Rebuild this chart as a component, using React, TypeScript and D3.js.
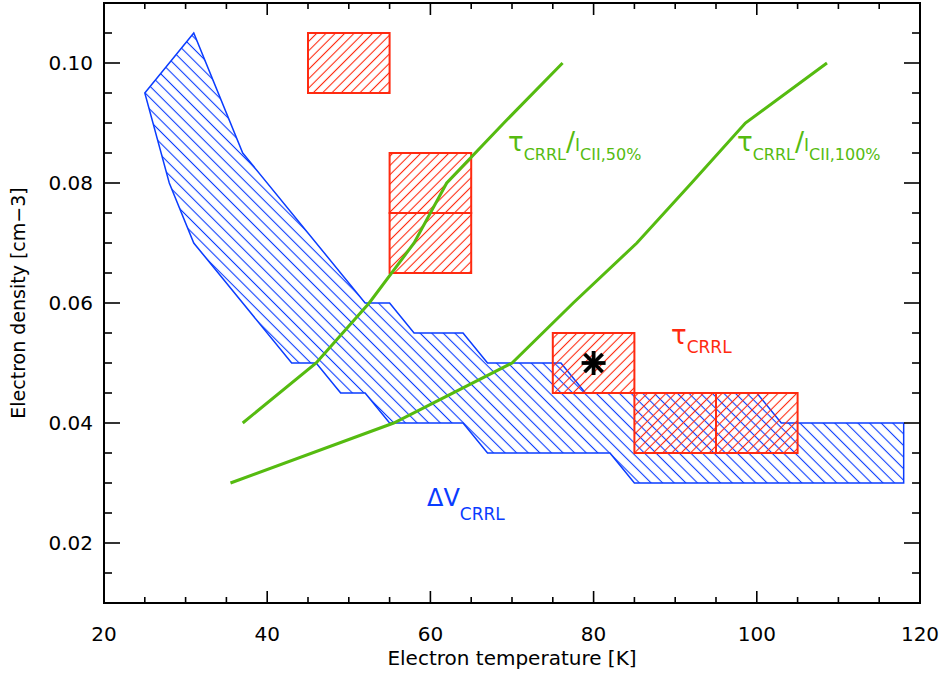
import React from "react";
import * as d3 from "d3";

// ---- data ----
const xTicks = [20, 40, 60, 80, 100, 120];
const xTickLabels = ["20", "40", "60", "80", "100", "120"];
const yTicks = [0.02, 0.04, 0.06, 0.08, 0.1];
const yTickLabels = ["0.02", "0.04", "0.06", "0.08", "0.10"];

// Delta V_CRRL constraint region (upper edge left->right, lower edge right->left)
const dvUpperT = [25, 31, 37, 52, 55, 58, 64, 67, 76, 79, 100, 103, 118];
const dvUpperN = [0.095, 0.105, 0.085, 0.06, 0.06, 0.055, 0.055, 0.05, 0.05, 0.045, 0.045, 0.04, 0.04];
const dvLowerT = [118, 85, 82, 67, 64, 55, 52, 49, 46, 43, 31, 28, 25];
const dvLowerN = [0.03, 0.03, 0.035, 0.035, 0.04, 0.04, 0.045, 0.045, 0.05, 0.05, 0.07, 0.08, 0.095];

// tau_CRRL cells
const tauT0 = [45, 55, 55, 75, 85, 95];
const tauT1 = [55, 65, 65, 85, 95, 105];
const tauN0 = [0.095, 0.075, 0.065, 0.045, 0.035, 0.035];
const tauN1 = [0.105, 0.085, 0.075, 0.055, 0.045, 0.045];

// tau/I_CII curves
const r50T = [37, 46, 52.5, 58, 62, 69, 76.2];
const r50N = [0.04, 0.05, 0.06, 0.07, 0.08, 0.09, 0.1];
const r100T = [35.5, 55.5, 70, 77.5, 85.3, 92, 98.6, 108.6];
const r100N = [0.03, 0.04, 0.05, 0.06, 0.07, 0.08, 0.09, 0.1];

// best solution
const starT = [80];
const starN = [0.05];

const W = 943;
const H = 673;
const BLUE = "#0a3cff";
const RED = "#ff2a10";
const GREEN = "#55bb10";
const FONT = "DejaVu Sans, sans-serif";

export default function App() {
  const x = d3.scaleLinear().domain([20, 120]).range([104, 920]);
  const y = d3.scaleLinear().domain([0.01, 0.11]).range([603, 3]);

  const polyPts: [number, number][] = [
    ...dvUpperT.map((t, i) => [t, dvUpperN[i]] as [number, number]),
    ...dvLowerT.map((t, i) => [t, dvLowerN[i]] as [number, number]),
  ];
  const line = d3
    .line<[number, number]>()
    .x((d) => x(d[0]))
    .y((d) => y(d[1]));
  const polyPath = line(polyPts) + "Z";
  const r50 = line(r50T.map((t, i) => [t, r50N[i]]));
  const r100 = line(r100T.map((t, i) => [t, r100N[i]]));

  const xMinor = d3.range(20, 120.01, 5).filter((v) => !xTicks.includes(v));
  const yMinor = d3
    .range(0.01, 0.1101, 0.005)
    .map((v) => Math.round(v * 1000) / 1000)
    .filter((v) => !yTicks.some((t) => Math.abs(t - v) < 1e-6));

  const [x0, x1] = x.range();
  const [yb, yt] = y.range();

  const bs = 8.2;
  const rs = 6.6;

  return (
    <svg
      width={W}
      height={H}
      style={{ position: "absolute", left: 0, top: 0, background: "#fff" }}
      fontFamily={FONT}
    >
      <defs>
        <pattern id="blueHatch" patternUnits="userSpaceOnUse" width={bs} height={bs} patternTransform="rotate(-45)">
          <line x1={bs / 2} y1={-1} x2={bs / 2} y2={bs + 1} stroke={BLUE} strokeWidth={1.1} />
        </pattern>
        <pattern id="redHatch" patternUnits="userSpaceOnUse" width={rs} height={rs} patternTransform="rotate(45)">
          <line x1={rs / 2} y1={-1} x2={rs / 2} y2={rs + 1} stroke={RED} strokeWidth={1.1} />
        </pattern>
      </defs>
      <rect x={0} y={0} width={W} height={H} fill="#fff" />

      {/* Delta V region */}
      <path d={polyPath} fill="url(#blueHatch)" stroke={BLUE} strokeWidth={1.5} strokeLinejoin="miter" />

      {/* tau cells */}
      {tauT0.map((t, i) => (
        <rect
          key={i}
          x={x(t)}
          y={y(tauN1[i])}
          width={x(tauT1[i]) - x(t)}
          height={y(tauN0[i]) - y(tauN1[i])}
          fill="url(#redHatch)"
          stroke={RED}
          strokeWidth={2}
        />
      ))}

      {/* curves */}
      <path d={r50 || ""} fill="none" stroke={GREEN} strokeWidth={3} />
      <path d={r100 || ""} fill="none" stroke={GREEN} strokeWidth={3} />

      {/* star */}
      {starT.map((t, i) => {
        const cx = x(t);
        const cy = y(starN[i]);
        const a = 12;
        const b = 9;
        return (
          <g key={i} stroke="#000" strokeWidth={3.8}>
            <line x1={cx - a} y1={cy} x2={cx + a} y2={cy} />
            <line x1={cx} y1={cy - a} x2={cx} y2={cy + a} />
            <line x1={cx - b} y1={cy - b} x2={cx + b} y2={cy + b} />
            <line x1={cx - b} y1={cy + b} x2={cx + b} y2={cy - b} />
          </g>
        );
      })}

      {/* labels */}
      <text x={508} y={151} fill={GREEN} fontSize={26}>
        <tspan>τ</tspan>
        <tspan fontSize={16} dy={9}>CRRL</tspan>
        <tspan fontSize={27} dy={-9}>/</tspan>
        <tspan fontSize={17} dy={0}>I</tspan>
        <tspan fontSize={16} dy={9}>CII,50%</tspan>
      </text>
      <text x={737} y={151} fill={GREEN} fontSize={26}>
        <tspan>τ</tspan>
        <tspan fontSize={16} dy={9}>CRRL</tspan>
        <tspan fontSize={27} dy={-9}>/</tspan>
        <tspan fontSize={17} dy={0}>I</tspan>
        <tspan fontSize={16} dy={9}>CII,100%</tspan>
      </text>
      <text x={671} y={344} fill={RED} fontSize={26}>
        <tspan>τ</tspan>
        <tspan fontSize={17} dy={9}>CRRL</tspan>
      </text>
      <text x={427} y={506} fill={BLUE} fontSize={24}>
        <tspan>ΔV</tspan>
        <tspan fontSize={17} dy={14}>CRRL</tspan>
      </text>

      {/* axes frame */}
      <rect x={x0} y={yt} width={x1 - x0} height={yb - yt} fill="none" stroke="#000" strokeWidth={2} />
      <g stroke="#000" strokeWidth={1.6}>
        {xTicks.map((t) => (
          <g key={"xt" + t}>
            <line x1={x(t)} x2={x(t)} y1={yb} y2={yb - 12} />
            <line x1={x(t)} x2={x(t)} y1={yt} y2={yt + 12} />
          </g>
        ))}
        {xMinor.map((t) => (
          <g key={"xm" + t}>
            <line x1={x(t)} x2={x(t)} y1={yb} y2={yb - 6} />
            <line x1={x(t)} x2={x(t)} y1={yt} y2={yt + 6} />
          </g>
        ))}
        {yTicks.map((t) => (
          <g key={"yt" + t}>
            <line x1={x0} x2={x0 + 16} y1={y(t)} y2={y(t)} />
            <line x1={x1} x2={x1 - 16} y1={y(t)} y2={y(t)} />
          </g>
        ))}
        {yMinor.map((t) => (
          <g key={"ym" + t}>
            <line x1={x0} x2={x0 + 8} y1={y(t)} y2={y(t)} />
            <line x1={x1} x2={x1 - 8} y1={y(t)} y2={y(t)} />
          </g>
        ))}
      </g>

      {xTicks.map((t, i) => (
        <text key={"xl" + t} x={x(t)} y={641} textAnchor="middle" fontSize={20} fill="#000">
          {xTickLabels[i]}
        </text>
      ))}
      {yTicks.map((t, i) => (
        <text key={"yl" + t} x={93} y={y(t) + 7} textAnchor="end" fontSize={20} fill="#000">
          {yTickLabels[i]}
        </text>
      ))}

      <text x={(x0 + x1) / 2} y={665} textAnchor="middle" fontSize={20} fill="#000">
        Electron temperature [K]
      </text>
      <text
        transform={`translate(25,${(yb + yt) / 2}) rotate(-90)`}
        textAnchor="middle"
        fontSize={19}
        fill="#000"
      >
        Electron density [cm−3]
      </text>
    </svg>
  );
}
